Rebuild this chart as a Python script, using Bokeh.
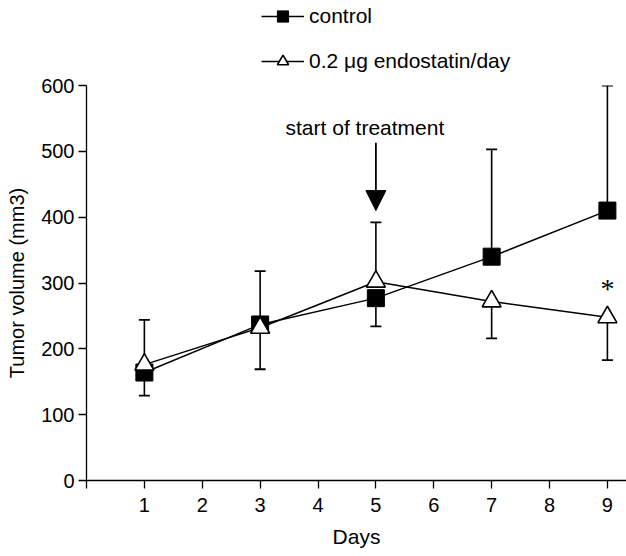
from bokeh.plotting import figure
from bokeh.layouts import column
from bokeh.models import Range1d, FixedTicker, Legend, LegendItem, Arrow, NormalHead, Label
from bokeh.embed import file_html
from bokeh.resources import INLINE

# ---- data ----
days = [1, 3, 5, 7, 9]
control = [164, 237, 277, 340, 410]
control_err = [-35, 81, -43, 163, 190]      # one-sided SD (sign = direction)
endostatin = [176, 232, 302, 272, 248]
endostatin_err = [68, -63, 90, -56, -65]
x_ticks = [0, 1, 2, 3, 4, 5, 6, 7, 8, 9]
y_ticks = [0, 100, 200, 300, 400, 500, 600]
series_names = ["control", "0.2 \u03bcg endostatin/day"]
treatment_day = 5
arrow_top = 513
arrow_tip = 410
star_day = 9
star_y = 292
annot_y = 536

FONT = "Liberation Sans"

# ---- legend strip (top); its glyphs lie outside its ranges, only the legend shows ----
top = figure(width=626, height=75, output_backend="svg", toolbar_location=None,
             x_range=Range1d(-2, -1), y_range=Range1d(-2, -1),
             x_axis_type=None, y_axis_type=None,
             min_border_left=0, min_border_right=0, min_border_top=0, min_border_bottom=0)
top.outline_line_color = None
top.grid.visible = False
tl1 = top.line(days, control, line_color="black", line_width=1.5)
ts1 = top.scatter(days, control, marker="square", size=17, fill_color="black", line_color="black")
tl2 = top.line(days, endostatin, line_color="black", line_width=1.5)
ts2 = top.scatter(days, endostatin, marker="triangle", size=19, fill_color="white",
                  line_color="black", line_width=1.6)
legend = Legend(items=[LegendItem(label=series_names[0], renderers=[tl1, ts1]),
                       LegendItem(label=series_names[1], renderers=[tl2, ts2])],
                location=(175, 0), orientation="vertical",
                glyph_width=43, glyph_height=28, label_height=28, spacing=17,
                label_standoff=5, padding=0, margin=0,
                border_line_color=None, background_fill_alpha=0,
                label_text_font=FONT, label_text_font_size="21px", label_text_color="black")
top.add_layout(legend, "center")

# ---- main plot ----
p = figure(width=626, height=481, output_backend="svg", toolbar_location=None,
           x_range=Range1d(0, 9.33), y_range=Range1d(0, 600),
           min_border_left=86, min_border_right=0, min_border_top=10, min_border_bottom=76)
p.outline_line_color = None
p.grid.visible = False
p.background_fill_color = "white"

for ax in (p.xaxis[0], p.yaxis[0]):
    ax.axis_line_color = "black"
    ax.axis_line_width = 1.3
    ax.major_tick_line_color = "black"
    ax.major_tick_line_width = 1.3
    ax.major_tick_out = 8
    ax.major_tick_in = 0
    ax.minor_tick_line_color = None
    ax.major_label_text_font = FONT
    ax.major_label_text_font_size = "20px"
    ax.major_label_text_color = "black"
    ax.axis_label_text_font = FONT
    ax.axis_label_text_font_size = "20px"
    ax.axis_label_text_font_style = "normal"
    ax.axis_label_text_color = "black"

p.xaxis.ticker = FixedTicker(ticks=x_ticks)
p.xaxis.major_label_overrides = {0: ""}
p.xaxis.major_label_standoff = 9
p.xaxis.axis_label = "Days"
p.xaxis.axis_label_text_font_size = "21px"
p.xaxis.axis_label_standoff = 10
p.yaxis.ticker = FixedTicker(ticks=y_ticks)
p.yaxis.major_label_standoff = 4
p.yaxis.axis_label = "Tumor volume (mm3)"
p.yaxis.axis_label_standoff = 10

# error bars (one-sided)
def err_bars(ys, errs):
    tops = [y + e for y, e in zip(ys, errs)]
    p.segment(x0=days, y0=ys, x1=days, y1=tops, line_color="black", line_width=1.6)
    p.scatter(x=days, y=tops, marker="dash", size=11, line_color="black", line_width=1.8)

err_bars(control, control_err)
err_bars(endostatin, endostatin_err)

p.line(days, control, line_color="black", line_width=1.5)
p.scatter(days, control, marker="square", size=17, fill_color="black", line_color="black")
p.line(days, endostatin, line_color="black", line_width=1.5)
p.scatter(days, endostatin, marker="triangle", size=19, fill_color="white",
          line_color="black", line_width=1.6)

p.add_layout(Arrow(end=NormalHead(size=20, fill_color="black", line_color="black"),
                   x_start=treatment_day, y_start=arrow_top, x_end=treatment_day, y_end=arrow_tip,
                   line_color="black", line_width=1.8))
p.add_layout(Label(x=treatment_day - 0.19, y=annot_y, text="start of treatment",
                   text_font=FONT, text_font_size="21px", text_align="center",
                   text_baseline="middle", text_color="black"))
p.add_layout(Label(x=star_day, y=star_y, text="*", text_font="Liberation Serif",
                   text_font_size="28px", text_align="center", text_baseline="middle",
                   text_color="black"))

layout = column(top, p, spacing=0)
open("out.html", "w").write(file_html(layout, INLINE))
